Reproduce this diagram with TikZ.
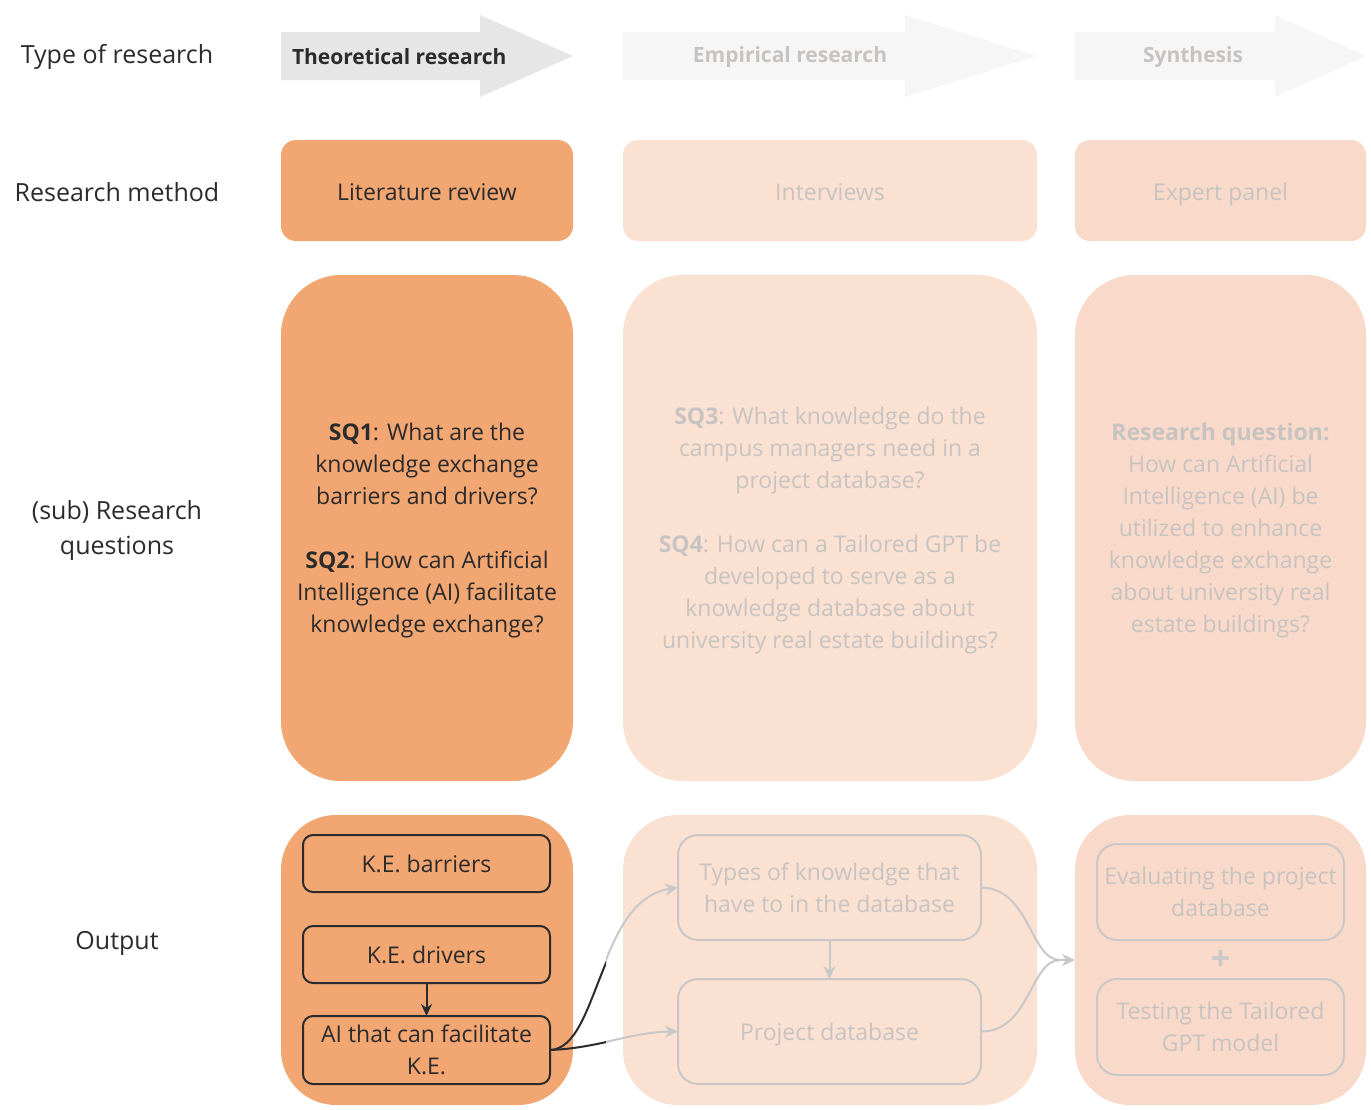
\documentclass[tikz,border=0pt]{standalone}
\usepackage{fontspec}
\setmainfont{Open Sans}
\usetikzlibrary{arrows.meta}
\definecolor{orng}{HTML}{F2A672}
\definecolor{empc}{HTML}{FBE1D2}
\definecolor{sync}{HTML}{F9D9C9}
\definecolor{arrA}{HTML}{E6E6E6}
\definecolor{arrB}{HTML}{F6F6F6}
\definecolor{fadetxt}{HTML}{C6C3C1}
\definecolor{fadeln}{HTML}{C8C8C8}
\definecolor{darktxt}{HTML}{2B2B2B}
\tikzset{
  every node/.style={font=\fontsize{23}{32}\selectfont, inner sep=0pt, outer sep=0pt},
  oneline/.style={text height=17pt, text depth=0pt},
  rowlabel/.style={text=darktxt, align=center, font=\fontsize{25}{35}\selectfont},
  methodbox/.style={rounded corners=15pt, minimum height=101pt},
  qbox/.style={rounded corners=60pt, minimum height=506pt},
  outbox/.style={rounded corners=55pt, minimum height=290pt},
  darkinner/.style={draw=darktxt, line width=2pt, rounded corners=10pt, minimum width=247pt, text=darktxt, align=center},
  fadeinner/.style={draw=fadeln, line width=2pt, rounded corners=20pt, text=fadetxt, align=center},
  darkarrow/.style={draw=darktxt, line width=2pt, -{Stealth[length=12pt,width=11pt]}},
  fadearrow/.style={draw=fadeln, line width=2pt, -{Stealth[length=13pt,width=12pt]}},
  fadeline/.style={draw=fadeln, line width=2pt},
  darkline/.style={draw=darktxt, line width=2pt},
}
\begin{document}
\begin{tikzpicture}[x=1pt,y=-1pt]
\useasboundingbox (0,0) rectangle (1371,1109);
% row labels
\node[rowlabel] (l1) at (117,57) {Type of research};
\node[rowlabel] (l2) at (117,192) {Research method};
\node[rowlabel] (l3) at (117,530) {(sub) Research\\questions};
\node[rowlabel] (l4) at (117,943) {Output};
% arrows
\fill[arrA] (281,32) -- (480,32) -- (480,15) -- (573,56) -- (480,97) -- (480,80) -- (281,80) -- cycle;
\fill[arrB] (623,32) -- (905,32) -- (905,15) -- (1037,56) -- (905,97) -- (905,80) -- (623,80) -- cycle;
\fill[arrB] (1075,32) -- (1275,32) -- (1275,15) -- (1366,56) -- (1275,97) -- (1275,80) -- (1075,80) -- cycle;
\node[anchor=west, text=darktxt, font=\fontsize{21}{28}\selectfont\bfseries] (a1) at (292,57) {Theoretical research};
\node[text=fadetxt, font=\fontsize{21}{28}\selectfont\bfseries] (a2) at (790,57) {Empirical research};
\node[text=fadetxt, font=\fontsize{21}{28}\selectfont\bfseries] (a3) at (1193,57) {Synthesis};
% method row
\node[methodbox, fill=orng, minimum width=292pt] (m1) at (427,190.5) {};
\node[methodbox, fill=empc, minimum width=414pt] (m2) at (830,190.5) {};
\node[methodbox, fill=sync, minimum width=291pt] (m3) at (1220.5,190.5) {};
\node[oneline, text=darktxt] (m1t) at (427,192) {Literature review};
\node[oneline, text=fadetxt] (m2t) at (830,192) {Interviews};
\node[oneline, text=fadetxt] (m3t) at (1220.5,192) {Expert panel};
% question row
\node[qbox, fill=orng, minimum width=292pt] (q1) at (427,528) {};
\node[qbox, fill=empc, minimum width=414pt] (q2) at (830,528) {};
\node[qbox, fill=sync, minimum width=291pt] (q3) at (1220.5,528) {};
\node[text=darktxt, align=center] (q1t) at (427,531) {\textbf{SQ1}: What are the\\knowledge exchange\\barriers and drivers?\\[32pt]\textbf{SQ2}: How can Artificial\\Intelligence (AI) facilitate\\knowledge exchange?};
\node[text=fadetxt, align=center] (q2t) at (830,531) {\textbf{SQ3}: What knowledge do the\\campus managers need in a\\project database?\\[32pt]\textbf{SQ4}: How can a Tailored GPT be\\developed to serve as a\\knowledge database about\\university real estate buildings?};
\node[text=fadetxt, align=center] (q3t) at (1220.5,531) {\textbf{Research question:}\\How can Artificial\\Intelligence (AI) be\\utilized to enhance\\knowledge exchange\\about university real\\estate buildings?};
% output row
\node[outbox, fill=orng, minimum width=292pt] (o1) at (427,960) {};
\node[outbox, fill=empc, minimum width=414pt] (o2) at (830,960) {};
\node[outbox, fill=sync, minimum width=291pt] (o3) at (1220.5,960) {};
% inner col1
\node[darkinner, oneline, minimum height=57pt] (keb) at (426.5,863.5) {K.E. barriers};
\node[darkinner, oneline, minimum height=57pt] (ked) at (426.5,954.5) {K.E. drivers};
\node[darkinner, minimum height=68pt] (ai) at (426.5,1050) {AI that can facilitate\\K.E.};
% inner col2
\node[fadeinner, minimum width=303pt, minimum height=105pt] (typ) at (829.5,887.5) {Types of knowledge that\\have to in the database};
\node[fadeinner, oneline, minimum width=303pt, minimum height=105pt] (pdb) at (829.5,1031.5) {Project database};
% inner col3
\node[fadeinner, minimum width=247pt, minimum height=96pt] (eva) at (1220.5,892) {Evaluating the project\\database};
\node[fadeinner, minimum width=247pt, minimum height=96pt] (tst) at (1220.5,1027) {Testing the Tailored\\GPT model};
\node[text=fadeln, font=\fontsize{34}{34}\selectfont\bfseries] (plus) at (1220.5,960) {+};
% connectors
\draw[darkarrow] (ked.south) -- (ai.north);
\draw[fadearrow] (typ.south) -- (pdb.north);
\begin{scope}
\clip (0,0) rectangle (606,1109);
\draw[darkline] (ai.east) .. controls (600,1048) and (596,900) .. (typ.west);
\draw[darkline] (ai.east) .. controls (600,1048) and (630,1032) .. (pdb.west);
\end{scope}
\begin{scope}
\clip (606,0) rectangle (1371,1109);
\draw[fadearrow] (ai.east) .. controls (600,1048) and (596,900) .. (typ.west);
\draw[fadearrow] (ai.east) .. controls (600,1048) and (630,1032) .. (pdb.west);
\end{scope}
\coordinate (join) at (1060,960);
\draw[fadeline] (typ.east) .. controls (1030,888) and (1030,960) .. (join);
\draw[fadeline] (pdb.east) .. controls (1030,1032) and (1030,960) .. (join);
\draw[fadearrow] (join) -- (o3.west);
\end{tikzpicture}
\end{document}
